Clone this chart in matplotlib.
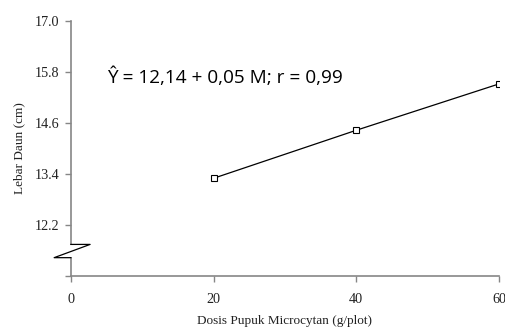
import matplotlib.pyplot as plt

# dosis pupuk (g/plot) vs lebar daun (cm)
dosis = [20, 40, 60]
lebar_daun = [13.30, 14.43, 15.52]

x_ticks = [0, 20, 40, 60]
y_ticks = [11.0, 12.2, 13.4, 14.6, 15.8, 17.0]
y_labels = ["", "12.2", "13.4", "14.6", "15.8", "17.0"]

persamaan = "Ŷ = 12,14 + 0,05 M; r = 0,99"

serif = ["Liberation Serif", "DejaVu Serif"]
grey = "#868686"

fig = plt.figure(figsize=(5.06, 3.29), dpi=100)
ax = fig.add_axes([0.140, 0.161, 0.846, 0.775])

ax.plot(dosis, lebar_daun, color="black", lw=0.9, marker="s", ms=4,
        mfc="white", mec="black", mew=0.8)

ax.set_xlim(0, 60)
ax.set_ylim(11.0, 17.0)
ax.set_xticks(x_ticks)
ax.set_yticks(y_ticks)
ax.set_yticklabels(y_labels)

for s in ["top", "right", "left"]:
    ax.spines[s].set_visible(False)
ax.spines["bottom"].set_color(grey)
ax.spines["bottom"].set_linewidth(1.2)
ax.tick_params(colors=grey, length=4, width=1.0, labelcolor="#222222",
               labelsize=10.2)
ax.tick_params(axis="x", pad=8)
ax.tick_params(axis="y", pad=4)
for lab in ax.get_xticklabels() + ax.get_yticklabels():
    lab.set_family(serif)

# y axis drawn by hand so it can carry the break mark
tr = ax.transAxes
ax.plot([0, 0], [1, 0.124], transform=tr, color=grey, lw=1.2, clip_on=False)
ax.plot([0, 0], [0.072, 0], transform=tr, color=grey, lw=1.2, clip_on=False)
ax.plot([0, 0.045, -0.039, 0], [0.124, 0.124, 0.072, 0.072], transform=tr,
        color="black", lw=0.9, clip_on=False)

ax.text(0.084, 0.78, persamaan, transform=tr, fontsize=13.7,
        family=["Open Sans", "DejaVu Sans"], va="center", ha="left")

ax.set_xlabel("Dosis Pupuk Microcytan (g/plot)", family=serif, fontsize=9.5,
              labelpad=7, color="#222222")
ax.set_ylabel("Lebar Daun (cm)", family=serif, fontsize=9.5, labelpad=7,
              color="#222222")

fig.savefig("out.png", dpi=100)
